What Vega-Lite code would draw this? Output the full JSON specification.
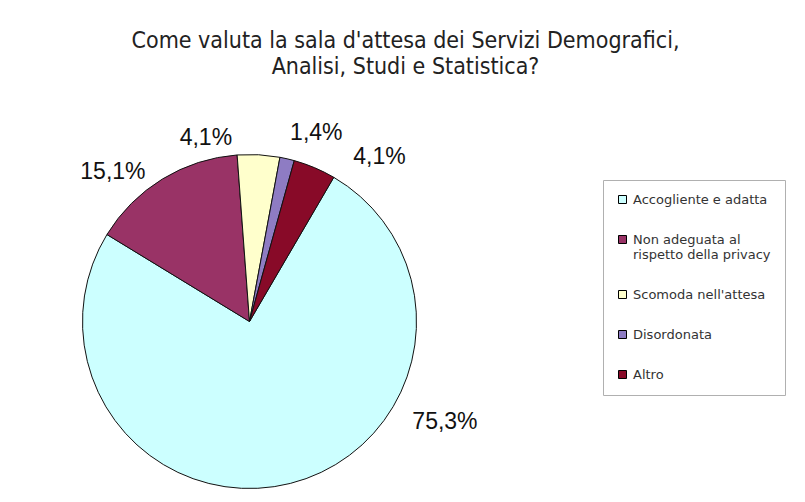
{
  "$schema": "https://vega.github.io/schema/vega-lite/v6.json",
  "autosize": {"type": "none"},
  "padding": {"left": 0, "top": 100, "right": 306, "bottom": 0},
  "width": 499,
  "height": 443,
  "background": "white",
  "title": {
    "text": ["Come valuta la sala d'attesa dei Servizi Demografici,", "Analisi, Studi e Statistica?"],
    "anchor": "middle",
    "frame": "group",
    "dx": 156,
    "dy": 62,
    "offset": 20,
    "font": "DejaVu Sans Condensed, Liberation Sans Narrow, DejaVu Sans",
    "fontSize": 23,
    "fontWeight": "normal",
    "color": "#222222",
    "lineHeight": 26
  },
  "config": {"view": {"stroke": null}},
  "data": {
    "values": [
      {"risposta": "Accogliente  e adatta", "perc": 75.3, "etichetta": "75,3%", "ordine": 1},
      {"risposta": "Non adeguata  al rispetto della privacy", "perc": 15.1, "etichetta": "15,1%", "ordine": 2},
      {"risposta": "Scomoda  nell'attesa", "perc": 4.1, "etichetta": "4,1%", "ordine": 3},
      {"risposta": "Disordonata", "perc": 1.4, "etichetta": "1,4%", "ordine": 4},
      {"risposta": "Altro", "perc": 4.1, "etichetta": "4,1%", "ordine": 5}
    ]
  },
  "encoding": {
    "theta": {"field": "perc", "type": "quantitative", "stack": true, "scale": {"range": [0.529, 6.8122]}},
    "order": {"field": "ordine", "type": "quantitative"},
    "color": {
      "field": "risposta",
      "type": "nominal",
      "scale": {
        "domain": ["Accogliente  e adatta", "Non adeguata  al rispetto della privacy", "Scomoda  nell'attesa", "Disordonata", "Altro"],
        "range": ["#CCFFFF", "#993366", "#FFFFCC", "#8E7CC3", "#880A28"]
      },
      "legend": {
        "orient": "none",
        "legendX": 603,
        "legendY": 80,
        "title": null,
        "padding": 13,
        "strokeColor": "#B0B0B0",
        "fillColor": "white",
        "symbolType": "square",
        "symbolSize": 64,
        "symbolStrokeColor": "#000000",
        "symbolStrokeWidth": 1,
        "labelFont": "DejaVu Sans",
        "labelFontSize": 13,
        "labelColor": "#333333",
        "rowPadding": 26,
        "labelOffset": 4,
        "labelLimit": 240,
        "labelExpr": "datum.label == 'Non adeguata  al rispetto della privacy' ? ['Non adeguata  al', 'rispetto della privacy'] : datum.label"
      }
    }
  },
  "layer": [
    {"mark": {"type": "arc", "outerRadius": 167, "stroke": "#111111", "strokeWidth": 1}},
    {
      "mark": {"type": "text", "radius": 190, "dx": 149, "dy": -84, "font": "Liberation Sans", "fontSize": 23, "align": "center", "baseline": "middle"},
      "encoding": {"color": {"value": "#111111"}, "text": {"condition": {"test": "datum.ordine == 1", "field": "etichetta"}, "value": ""}}
    },
    {
      "mark": {"type": "text", "radius": 190, "dx": -37.5, "dy": 12.7, "font": "Liberation Sans", "fontSize": 23, "align": "center", "baseline": "middle"},
      "encoding": {"color": {"value": "#111111"}, "text": {"condition": {"test": "datum.ordine == 2", "field": "etichetta"}, "value": ""}}
    },
    {
      "mark": {"type": "text", "radius": 190, "dx": -54, "dy": 6, "font": "Liberation Sans", "fontSize": 23, "align": "center", "baseline": "middle"},
      "encoding": {"color": {"value": "#111111"}, "text": {"condition": {"test": "datum.ordine == 3", "field": "etichetta"}, "value": ""}}
    },
    {
      "mark": {"type": "text", "radius": 190, "dx": 24, "dy": -3, "font": "Liberation Sans", "fontSize": 23, "align": "center", "baseline": "middle"},
      "encoding": {"color": {"value": "#111111"}, "text": {"condition": {"test": "datum.ordine == 4", "field": "etichetta"}, "value": ""}}
    },
    {
      "mark": {"type": "text", "radius": 190, "dx": 56, "dy": 10.5, "font": "Liberation Sans", "fontSize": 23, "align": "center", "baseline": "middle"},
      "encoding": {"color": {"value": "#111111"}, "text": {"condition": {"test": "datum.ordine == 5", "field": "etichetta"}, "value": ""}}
    }
  ]
}
